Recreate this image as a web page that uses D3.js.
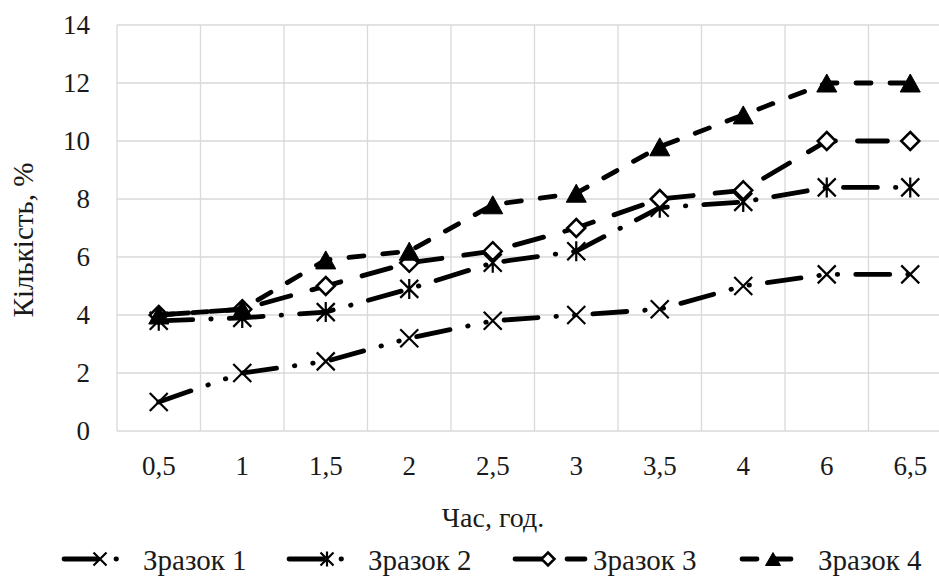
<!DOCTYPE html>
<html>
<head>
<meta charset="utf-8">
<script src="https://cdn.jsdelivr.net/npm/d3@7"></script>
<style>
  html, body { margin: 0; padding: 0; background: #fff; overflow: hidden; }
  text { font-family: "Liberation Serif", "Times New Roman", serif; fill: #1a1a1a; }
</style>
</head>
<body>
<div id="chart"></div>
<script>
// dữ liệu
const categories = ["0,5", "1", "1,5", "2", "2,5", "3", "3,5", "4", "6", "6,5"];
const zrazok1 = [1.0, 2.0, 2.4, 3.2, 3.8, 4.0, 4.2, 5.0, 5.4, 5.4];
const zrazok2 = [3.8, 3.9, 4.1, 4.9, 5.8, 6.2, 7.7, 7.9, 8.4, 8.4];
const zrazok3 = [4.0, 4.2, 5.0, 5.8, 6.2, 7.0, 8.0, 8.3, 10.0, 10.0];
const zrazok4 = [4.0, 4.2, 5.9, 6.2, 7.8, 8.2, 9.8, 10.9, 12.0, 12.0];
const seriesNames = ["Зразок 1", "Зразок 2", "Зразок 3", "Зразок 4"];
const yTicks = [0, 2, 4, 6, 8, 10, 12, 14];

const width = 939, height = 577;
const plot = { left: 117, right: 952, top: 25, bottom: 431 };

const svg = d3.select("#chart").append("svg")
  .attr("width", width)
  .attr("height", height);

const x = d3.scaleBand().domain(categories).range([plot.left, plot.right]).padding(0);
const y = d3.scaleLinear().domain([0, 14]).range([plot.bottom, plot.top]);

// lưới
const grid = svg.append("g").attr("stroke", "#d9d9d9").attr("stroke-width", 1.3);
grid.selectAll(".hg").data(yTicks).join("line")
  .attr("x1", plot.left).attr("x2", plot.right)
  .attr("y1", d => y(d)).attr("y2", d => y(d));
grid.selectAll(".vg").data(categories.concat(["end"])).join("line")
  .attr("x1", (d, i) => plot.left + i * x.bandwidth())
  .attr("x2", (d, i) => plot.left + i * x.bandwidth())
  .attr("y1", plot.top).attr("y2", plot.bottom);

// nhãn trục Y
svg.append("g").selectAll("text").data(yTicks).join("text")
  .attr("x", 90).attr("y", d => y(d) + 9)
  .attr("text-anchor", "end")
  .attr("font-size", 27)
  .text(d => d);

// nhãn trục X
svg.append("g").selectAll("text").data(categories).join("text")
  .attr("x", d => x(d) + x.bandwidth() / 2)
  .attr("y", 475)
  .attr("text-anchor", "middle")
  .attr("font-size", 27)
  .text(d => d);

// tiêu đề trục
svg.append("text")
  .attr("x", 493).attr("y", 527)
  .attr("text-anchor", "middle")
  .attr("font-size", 28)
  .text("Час, год.");

svg.append("text")
  .attr("transform", "translate(33,240) rotate(-90)")
  .attr("text-anchor", "middle")
  .attr("font-size", 29)
  .text("Кількість, %");

// kiểu marker
function drawMarker(g, type, s) {
  const h = s / 2;
  if (type === "x") {
    g.append("path").attr("d", `M${-h},${-h}L${h},${h}M${-h},${h}L${h},${-h}`)
      .attr("stroke", "#000").attr("stroke-width", 2.2).attr("fill", "none");
  } else if (type === "star") {
    g.append("path").attr("d", `M${-h},${-h}L${h},${h}M${-h},${h}L${h},${-h}M0,${-h - 1}L0,${h + 1}`)
      .attr("stroke", "#000").attr("stroke-width", 2.2).attr("fill", "none");
  } else if (type === "diamond") {
    g.append("path").attr("d", `M0,${-h}L${h},0L0,${h}L${-h},0Z`)
      .attr("stroke", "#000").attr("stroke-width", 2.5).attr("fill", "#fff");
  } else if (type === "triangle") {
    g.append("path").attr("d", `M0,${-h}L${h + 1},${h}L${-h - 1},${h}Z`)
      .attr("stroke", "#000").attr("stroke-width", 1).attr("fill", "#000");
  }
}

const series = [
  { name: seriesNames[0], values: zrazok1, marker: "x", dash: "34,18,0.5,18,0.5,18" },
  { name: seriesNames[1], values: zrazok2, marker: "star", dash: "34,18,0.5,18" },
  { name: seriesNames[2], values: zrazok3, marker: "diamond", dash: "30,22" },
  { name: seriesNames[3], values: zrazok4, marker: "triangle", dash: "15,19" }
];

const line = d3.line()
  .x((d, i) => x(categories[i]) + x.bandwidth() / 2)
  .y(d => y(d));

series.forEach(s => {
  svg.append("path")
    .datum(s.values)
    .attr("fill", "none")
    .attr("stroke", "#000")
    .attr("stroke-width", 4.8)
    .attr("stroke-linecap", "round")
    .attr("stroke-dasharray", s.dash)
    .attr("d", line);

  s.values.forEach((v, i) => {
    const g = svg.append("g")
      .attr("transform", `translate(${x(categories[i]) + x.bandwidth() / 2},${y(v)})`);
    drawMarker(g, s.marker, 18);
  });
});

// chú giải
const legendItems = [
  { lx: 64, len: 58, mx: 100, tx: 143 },
  { lx: 289, len: 58, mx: 327, tx: 368 },
  { lx: 515, len: 70, mx: 548, tx: 593 },
  { lx: 742, len: 51, mx: 773, tx: 818 }
];
const ly = 559;
series.forEach((s, i) => {
  const it = legendItems[i];
  svg.append("line")
    .attr("x1", it.lx).attr("x2", it.lx + it.len)
    .attr("y1", ly).attr("y2", ly)
    .attr("stroke", "#000")
    .attr("stroke-width", 4.8)
    .attr("stroke-linecap", "round")
    .attr("stroke-dasharray", s.dash);
  const g = svg.append("g").attr("transform", `translate(${it.mx},${ly})`);
  drawMarker(g, s.marker, 13);
  svg.append("text")
    .attr("x", it.tx).attr("y", 570)
    .attr("font-size", 29)
    .text(s.name);
});
</script>
</body>
</html>
